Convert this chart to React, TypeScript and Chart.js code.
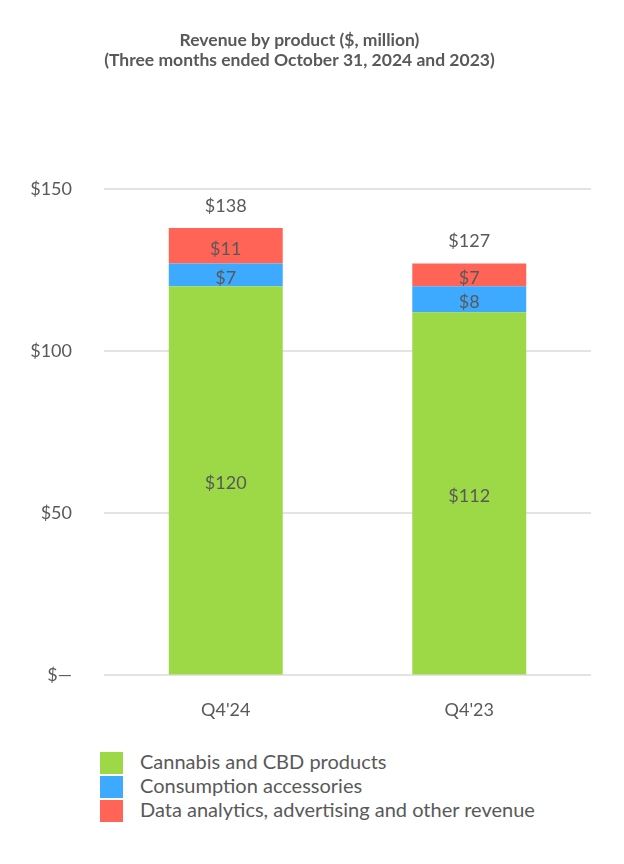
import React, { useEffect, useRef } from "react";
import { Chart, registerables } from "chart.js";

Chart.register(...registerables);

const categories = ["Q4'24", "Q4'23"];
const cannabis = [120, 112];
const accessories = [7, 8];
const dataAnalytics = [11, 7];
const totals = [138, 127];
const seriesNames = [
  "Cannabis and CBD products",
  "Consumption accessories",
  "Data analytics, advertising and other revenue",
];
const seriesColors = ["#9DD947", "#3DAAFF", "#FF6456"];
const yTicks = [0, 50, 100, 150];
const titleLines = [
  "Revenue by product ($, million)",
  "(Three months ended October 31, 2024 and 2023)",
];

const FONT = "Lato, 'Open Sans', sans-serif";
const TEXT = "#595959";

const labelsPlugin = {
  id: "segLabels",
  afterDatasetsDraw(chart: any) {
    const ctx = chart.ctx;
    ctx.save();
    ctx.font = `18px ${FONT}`;
    ctx.fillStyle = TEXT;
    ctx.textAlign = "center";
    ctx.textBaseline = "middle";
    chart.data.datasets.forEach((ds: any, di: number) => {
      const meta = chart.getDatasetMeta(di);
      meta.data.forEach((bar: any, i: number) => {
        const v = ds.data[i];
        const mid = (bar.y + bar.base) / 2;
        ctx.fillText("$" + v, bar.x, mid + 3);
      });
    });
    const last = chart.getDatasetMeta(chart.data.datasets.length - 1);
    last.data.forEach((bar: any, i: number) => {
      ctx.fillText("$" + totals[i], bar.x, bar.y - 22);
    });
    ctx.restore();
  },
};

export default function App() {
  const ref = useRef<HTMLCanvasElement | null>(null);
  useEffect(() => {
    if (!ref.current) return;
    const datasets = [cannabis, accessories, dataAnalytics].map((d, i) => ({
      label: seriesNames[i],
      data: d,
      backgroundColor: seriesColors[i],
      borderWidth: 0,
      barPercentage: 0.468,
      categoryPercentage: 1,
    }));
    const chart = new Chart(ref.current, {
      type: "bar",
      data: { labels: categories, datasets },
      options: {
        animation: false,
        responsive: false,
        maintainAspectRatio: false,
        layout: { padding: { left: 0, right: 25, top: 0, bottom: 0 } },
        plugins: {
          legend: { display: false },
          tooltip: { enabled: false },
          title: {
            display: true,
            text: titleLines,
            color: TEXT,
            font: { family: FONT, size: 17.5, weight: "bold", lineHeight: 1.143 },
            padding: { top: 22, bottom: 119 },
          },
        },
        scales: {
          x: {
            stacked: true,
            grid: { display: false },
            border: { display: false },
            ticks: { color: TEXT, font: { family: FONT, size: 18 }, padding: 16 },
          },
          y: {
            stacked: true,
            min: 0,
            max: 150,
            afterFit: (s: any) => {
              s.width = 96;
            },
            afterBuildTicks: (s: any) => {
              s.ticks = yTicks.map((v) => ({ value: v }));
            },
            grid: { color: "#E3E3E3", lineWidth: 2, drawTicks: false },
            border: { display: false },
            ticks: {
              color: TEXT,
              font: { family: FONT, size: 18 },
              padding: 32,
              callback: (v: any) => (v === 0 ? "$\u2014" : "$" + v),
            },
          },
        },
      },
      plugins: [labelsPlugin],
    });
    return () => chart.destroy();
  }, []);

  return (
    <div style={{ width: 608, fontFamily: FONT }}>
      <canvas ref={ref} width={608} height={729} style={{ display: "block" }} />
      <div style={{ paddingLeft: 92, marginTop: 14 }}>
        {seriesNames.map((n, i) => (
          <div key={n} style={{ display: "flex", alignItems: "center", height: 24, color: TEXT, fontSize: 20 }}>
            <span style={{ width: 23, height: 22, background: seriesColors[i], display: "inline-block", marginRight: 17, flexShrink: 0 }} />
            <span style={{ position: "relative", top: -2 }}>{n}</span>
          </div>
        ))}
      </div>
    </div>
  );
}
